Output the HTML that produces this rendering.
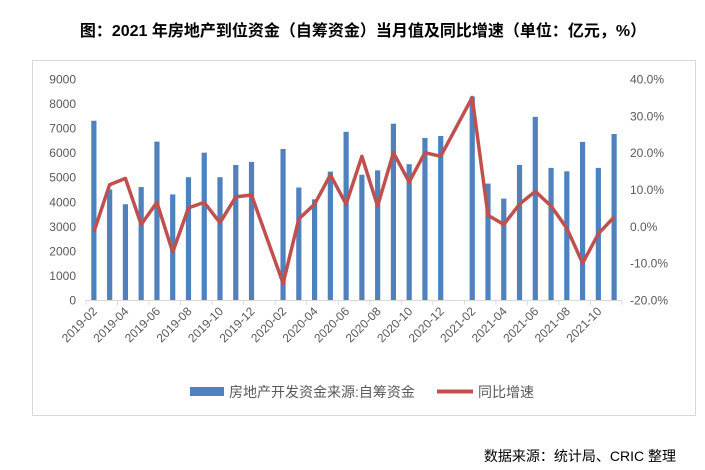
<!DOCTYPE html>
<html><head><meta charset="utf-8"><style>
body{margin:0;background:#fff;width:705px;height:470px;overflow:hidden}
svg{display:block}
</style></head><body>
<svg id="s" width="705" height="470" xmlns="http://www.w3.org/2000/svg" font-family="'Liberation Sans','Noto Sans CJK SC',sans-serif">
<text x="363" y="36" text-anchor="middle" font-size="16" font-weight="bold" fill="#000">图：2021 年房地产到位资金（自筹资金）当月值及同比增速（单位：亿元，%）</text>
<rect x="32.5" y="60.5" width="663" height="355" fill="none" stroke="#d9d9d9"/>
<g id="g"></g>
<rect x="190" y="387" width="34" height="9" fill="#4f81bd"/>
<text x="229" y="397" font-size="14" fill="#595959">房地产开发资金来源:自筹资金</text>
<line x1="437" y1="391.5" x2="473" y2="391.5" stroke="#c0504d" stroke-width="4"/>
<text x="478" y="397" font-size="14" fill="#595959">同比增速</text>
<text x="676" y="461" text-anchor="end" font-size="14" fill="#000">数据来源：统计局、CRIC 整理</text>
</svg>
<script>
var bars=[7300,4500,3900,4600,6450,4300,5000,6000,5000,5500,5620,null,6150,4580,4100,5230,6850,5100,5280,7180,5530,6600,6680,null,8280,4740,4130,5500,7460,5380,5240,6440,5380,6760];
var pct=[-1.5,11.3,13,0.5,6.5,-7,5,6.5,1,8,8.5,null,-15.5,2,6,14,6,19,5.5,20,12,20,19,null,35,3,0.5,6,9.5,5.5,-0.5,-10,-2,2.5];
var x0=86,x1=622,n=34,w=(x1-x0)/n,yb=300,yt=79;
function yl(v){return yb-(v/9000)*(yb-yt)}
function yr(v){return yb-((v+20)/60)*(yb-yt)}
var h='';
for(var i=0;i<=9;i++){var y=yl(i*1000);h+='<text x="76" y="'+(y+4.5)+'" text-anchor="end" font-size="12" fill="#595959">'+(i*1000)+'</text>';}
for(var i=0;i<=6;i++){var v=-20+i*10;var y=yr(v);h+='<text x="630" y="'+(y+4.5)+'" font-size="12" fill="#595959">'+v.toFixed(1)+'%</text>';}
h+='<line x1="'+x0+'" y1="300.5" x2="'+x1+'" y2="300.5" stroke="#d9d9d9"/>';
for(var i=0;i<=n;i+=2){var x=x0+i*w;h+='<line x1="'+x+'" y1="300" x2="'+x+'" y2="305" stroke="#d9d9d9"/>';}
for(var i=0;i<n;i++){if(bars[i]==null)continue;var cx=x0+(i+0.5)*w;var y=yl(bars[i]);h+='<rect x="'+(cx-2.6)+'" y="'+y+'" width="5.2" height="'+(yb-y)+'" fill="#4f81bd"/>';}
var pts=[];for(var i=0;i<n;i++){if(pct[i]==null)continue;pts.push((x0+(i+0.5)*w).toFixed(1)+','+yr(pct[i]).toFixed(1));}
h+='<polyline points="'+pts.join(' ')+'" fill="none" stroke="#c0504d" stroke-width="3.5" stroke-linejoin="round"/>';
var months=['02','04','06','08','10','12'];
for(var i=0;i<n;i+=2){var m=(i+1)%12+1;var yr2=2019+Math.floor((i+1)/12);var lab=yr2+'-'+(m<10?'0'+m:m);var cx=x0+(i+0.5)*w+4;h+='<text x="'+cx+'" y="312" text-anchor="end" font-size="12" fill="#595959" transform="rotate(-45 '+cx+' 312)">'+lab+'</text>';}
document.getElementById('g').innerHTML=h;
</script>
</body></html>
